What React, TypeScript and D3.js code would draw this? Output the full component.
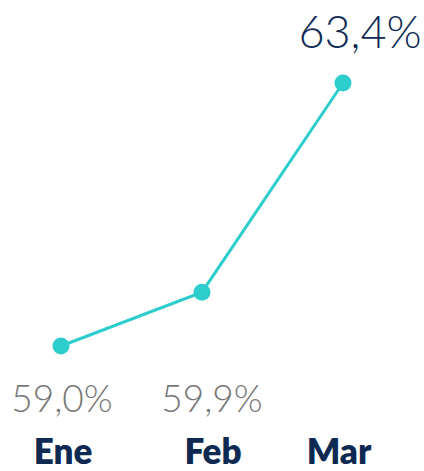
import { useEffect, useRef } from 'react';
import * as d3 from 'd3';

const months = ['Ene', 'Feb', 'Mar'];
const rates = [59.0, 59.9, 63.4];
const labels = ['59,0%', '59,9%', '63,4%'];

const W = 424;
const H = 471;

const App = () => {
  const ref = useRef<SVGSVGElement | null>(null);

  useEffect(() => {
    if (!ref.current) return;
    const svg = d3.select(ref.current);
    svg.selectAll('*').remove();

    const x = d3.scalePoint<string>().domain(months).range([61, 343]);
    const y = d3.scaleLinear().domain([59.0, 63.4]).range([346, 83]);

    const teal = '#2ECDCD';
    const navy = '#0E2A52';
    const gray = '#777777';

    // small nudges so labels sit like in the original layout
    const valueDx = [1, 10, 17];
    const catDx = [2, 11, -4];

    const line = d3.line<number>()
      .x((_, i) => x(months[i]) as number)
      .y(d => y(d));

    svg.append('path')
      .datum(rates)
      .attr('d', line)
      .attr('fill', 'none')
      .attr('stroke', teal)
      .attr('stroke-width', 3);

    svg.selectAll('circle.pt')
      .data(rates)
      .enter()
      .append('circle')
      .attr('class', 'pt')
      .attr('cx', (_, i) => x(months[i]) as number)
      .attr('cy', d => y(d))
      .attr('r', 8.5)
      .attr('fill', teal);

    // value labels: last one on top (highlighted), others below the line
    const last = rates.length - 1;
    svg.selectAll('text.val')
      .data(rates)
      .enter()
      .append('text')
      .attr('class', 'val')
      .attr('text-anchor', 'middle')
      .attr('font-family', 'Lato, sans-serif')
      .attr('font-weight', 300)
      .attr('font-size', (_, i) => (i === last ? 45 : 37))
      .attr('fill', (_, i) => (i === last ? navy : gray))
      .attr('x', (_, i) => (x(months[i]) as number) + valueDx[i])
      .attr('y', (_, i) => (i === last ? 48 : 412))
      .text((_, i) => labels[i]);

    svg.selectAll('text.cat')
      .data(months)
      .enter()
      .append('text')
      .attr('class', 'cat')
      .attr('x', (d, i) => (x(d) as number) + catDx[i])
      .attr('y', 464)
      .attr('text-anchor', 'middle')
      .attr('font-family', 'Lato, sans-serif')
      .attr('font-weight', 800)
      .attr('font-size', 35)
      .attr('fill', navy)
      .text(d => d);
  }, []);

  return (
    <div style={{ position: 'absolute', left: 0, top: 0 }}>
      <svg ref={ref} width={W} height={H} style={{ display: 'block' }}></svg>
    </div>
  );
};

export default App;
